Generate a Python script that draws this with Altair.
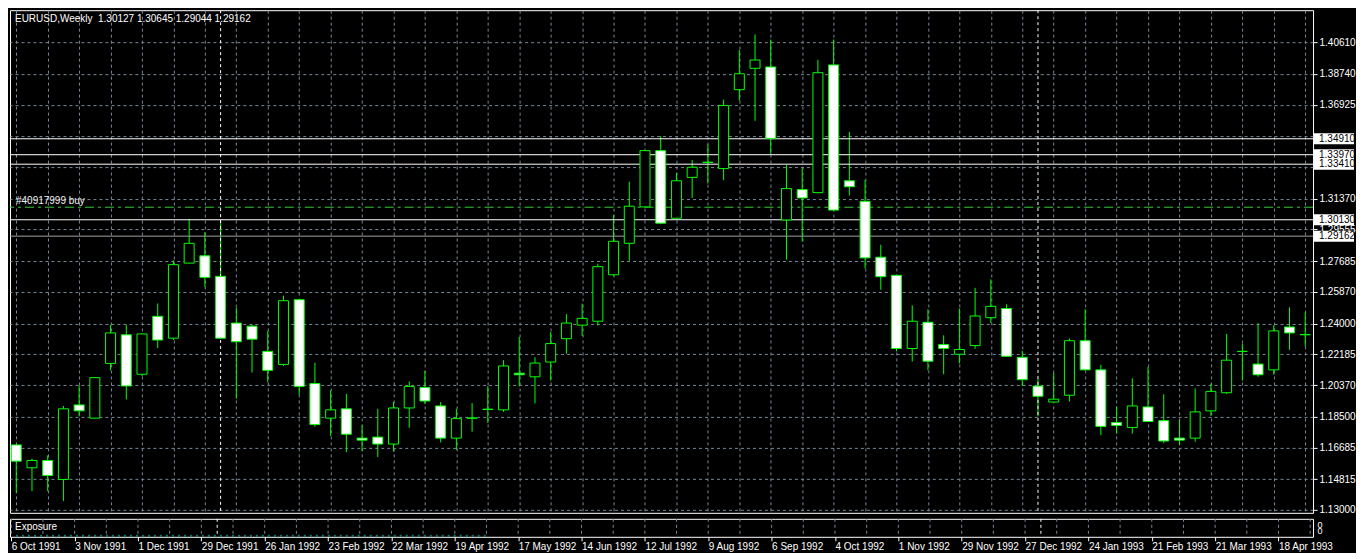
import json
import pandas as pd
import altair as alt

FONT = "Liberation Sans"
LIME = "#00ff00"
GRID = "#778899"

# ---------------- data ----------------
title_text = "EURUSD,Weekly\u00a0\u00a01.30127 1.30645 1.29044 1.29162"

week_index = list(range(83))
opens = [1.1684, 1.1549, 1.1592, 1.1480, 1.1920, 1.1842, 1.2165, 1.2334, 1.2101, 1.2443,
         1.2314, 1.2757, 1.2800, 1.2679, 1.2403, 1.2385, 1.2236, 1.2159, 1.2541, 1.2046,
         1.1842, 1.1897, 1.1724, 1.1730, 1.1689, 1.1902, 1.2023, 1.1914, 1.1724, 1.1841,
         1.1893, 1.1891, 1.2107, 1.2086, 1.2173, 1.2311, 1.2391, 1.2414, 1.2688, 1.2874,
         1.3089, 1.3421, 1.3022, 1.3263, 1.3351, 1.3315, 1.3781, 1.3907, 1.3915, 1.3012,
         1.3191, 1.3173, 1.3927, 1.3243, 1.3122, 1.2792, 1.2685, 1.2253, 1.2408, 1.2276,
         1.2219, 1.2270, 1.2435, 1.2489, 1.2201, 1.2031, 1.1937, 1.1977, 1.2299, 1.2127,
         1.1816, 1.1787, 1.1908, 1.1827, 1.1724, 1.1724, 1.1885, 1.1992, 1.2236, 1.2161,
         1.2127, 1.2380, 1.2334]
highs = [1.1691, 1.1603, 1.1622, 1.1914, 1.2035, 1.2085, 1.2393, 1.2393, 1.2342, 1.2519,
         1.2773, 1.3018, 1.2939, 1.3008, 1.2495, 1.2393, 1.2357, 1.2565, 1.2544, 1.2169,
         1.2006, 1.1985, 1.1799, 1.1897, 1.1937, 1.2059, 1.2121, 1.1937, 1.1897, 1.1931,
         1.2031, 1.2184, 1.2322, 1.2201, 1.2351, 1.2456, 1.2518, 1.2754, 1.3041, 1.3238,
         1.3424, 1.3507, 1.3290, 1.3365, 1.3457, 1.3722, 1.4015, 1.4107, 1.4077, 1.3336,
         1.3317, 1.3957, 1.4077, 1.3532, 1.3248, 1.2865, 1.2688, 1.2508, 1.2485, 1.2331,
         1.2489, 1.2611, 1.2661, 1.2514, 1.2239, 1.2075, 1.2109, 1.2312, 1.2485, 1.2157,
         1.1910, 1.2077, 1.2144, 1.1983, 1.1833, 1.2017, 1.2046, 1.2339, 1.2282, 1.2403,
         1.2391, 1.2496, 1.2466]
lows = [1.1402, 1.1411, 1.1411, 1.1353, 1.1852, 1.1838, 1.2124, 1.1952, 1.2090, 1.2255,
        1.2303, 1.2755, 1.2616, 1.2311, 1.1957, 1.2111, 1.2054, 1.2150, 1.1980, 1.1791,
        1.1737, 1.1641, 1.1647, 1.1612, 1.1645, 1.1785, 1.1925, 1.1699, 1.1655, 1.1762,
        1.1814, 1.1879, 1.2029, 1.1929, 1.2063, 1.2222, 1.2326, 1.2389, 1.2682, 1.2771,
        1.3085, 1.2987, 1.3020, 1.3142, 1.3227, 1.3246, 1.3716, 1.3597, 1.3400, 1.2778,
        1.2884, 1.3170, 1.3064, 1.3156, 1.2725, 1.2600, 1.2236, 1.2176, 1.2124, 1.2101,
        1.2165, 1.2251, 1.2404, 1.2205, 1.2031, 1.1852, 1.1935, 1.1940, 1.2125, 1.1741,
        1.1750, 1.1750, 1.1820, 1.1695, 1.1684, 1.1703, 1.1856, 1.1985, 1.2063, 1.2086,
        1.2098, 1.2245, 1.2265]
closes = [1.1588, 1.1592, 1.1503, 1.1897, 1.1885, 1.2081, 1.2345, 1.2032, 1.2339, 1.2303,
          1.2748, 1.2874, 1.2673, 1.2314, 1.2293, 1.2308, 1.2124, 1.2535, 1.2029, 1.1804,
          1.1891, 1.1747, 1.1712, 1.1689, 1.1902, 1.2029, 1.1943, 1.1724, 1.1839, 1.1843,
          1.1895, 1.2150, 1.2098, 1.2167, 1.2282, 1.2403, 1.2431, 1.2736, 1.2886, 1.3093,
          1.3421, 1.2993, 1.3243, 1.3323, 1.3353, 1.3687, 1.3875, 1.3956, 1.3492, 1.3197,
          1.3142, 1.3881, 1.3070, 1.3208, 1.2788, 1.2677, 1.2253, 1.2414, 1.2178, 1.2253,
          1.2247, 1.2445, 1.2502, 1.2207, 1.2069, 1.1971, 1.1954, 1.2299, 1.2127, 1.1793,
          1.1799, 1.1914, 1.1822, 1.1707, 1.1712, 1.1879, 1.2000, 1.2184, 1.2236, 1.2098,
          1.2357, 1.2345, 1.2336]

date_labels = ["6 Oct 1991", "3 Nov 1991", "1 Dec 1991", "29 Dec 1991", "26 Jan 1992",
               "23 Feb 1992", "22 Mar 1992", "19 Apr 1992", "17 May 1992", "14 Jun 1992",
               "12 Jul 1992", "9 Aug 1992", "6 Sep 1992", "4 Oct 1992", "1 Nov 1992",
               "29 Nov 1992", "27 Dec 1992", "24 Jan 1993", "21 Feb 1993", "21 Mar 1993",
               "18 Apr 1993"]
label_weeks = [0, 4, 8, 12, 16, 20, 24, 28, 32, 36, 40, 44, 48, 52, 56, 60, 64, 68, 72, 76, 80]
grid_weeks = [0, 2, 4, 6, 8, 10, 12, 14, 16, 18, 20, 22, 24, 26, 28, 30, 32, 34, 36, 38, 40,
              42, 44, 46, 48, 50, 52, 54, 56, 58, 60, 62, 64, 66, 68, 70, 72, 74, 76, 78, 80, 82]
year_separators = [13, 65]

price_grid = [1.13000, 1.14815, 1.16685, 1.18500, 1.20370, 1.22185, 1.24000, 1.25870,
              1.27685, 1.29555, 1.31370, 1.33240, 1.35050, 1.36925, 1.38740, 1.40610]
# grid levels whose labels sit hidden under the order-level boxes
hidden_low, hidden_high = 1.332, 1.351

white_levels = [1.34910, 1.33970, 1.33410, 1.30130]
bid_level = [1.29162]
boxed_levels = [1.34910, 1.33970, 1.33410, 1.30130, 1.29162]
order_price = [1.30870]
order_label = ["#40917999 buy"]

exposure_start = [0.3]
exposure_end = [30.0]
exposure_level = [0.06]

# ---------------- layout ----------------
W, H1, H2 = 1304, 503, 18
XDOM = [-0.08, 82.18]
YDOM = [1.1283, 1.4250]

xs = alt.Scale(domain=XDOM, nice=False, zero=False)
ys = alt.Scale(domain=YDOM, nice=False, zero=False)

candles = pd.DataFrame({"i": week_index, "o": opens, "h": highs, "l": lows, "c": closes})
grid_df = pd.DataFrame({"i": grid_weeks})
sep_df = pd.DataFrame({"i": year_separators})
white_df = pd.DataFrame({"p": white_levels})
bid_df = pd.DataFrame({"p": bid_level})
box_df = pd.DataFrame({"p": boxed_levels})
order_df = pd.DataFrame({"p": order_price, "t": order_label})
title_df = pd.DataFrame({"t": [title_text]})
expo_df = pd.DataFrame({"a": exposure_start, "b": exposure_end, "v": exposure_level})
expo_txt = pd.DataFrame({"t": ["Exposure"]})

x_grid_axis = alt.Axis(values=grid_weeks, labels=False, ticks=False, domain=False,
                       grid=True, gridColor=GRID, gridDash=[3, 3], gridWidth=1, title=None)
y_axis = alt.Axis(orient="right", values=price_grid,
                  labelExpr=(f"datum.value > {hidden_low} && datum.value < {hidden_high}"
                             " ? '' : format(datum.value, '.5f')"),
                  domain=False,
                  ticks=True, tickColor="#ffffff", tickSize=4, labelColor="#ffffff",
                  labelFont=FONT, labelFontSize=10, labelPadding=2, labelOverlap=False,
                  labelBaseline="middle", grid=True, gridColor=GRID, gridDash=[3, 3],
                  gridWidth=1, title=None)

X = lambda f: alt.X(f, scale=xs, axis=x_grid_axis, title=None)
Y = lambda f: alt.Y(f, scale=ys, axis=y_axis, title=None)

wicks = alt.Chart(candles).mark_rule(color=LIME, strokeWidth=1, clip=True).encode(
    x=X("i:Q"), y=Y("h:Q"), y2="l:Q")

bodies = alt.Chart(candles).mark_bar(size=10, stroke=LIME, strokeWidth=1, clip=True).encode(
    x=X("i:Q"), y=Y("o:Q"), y2="c:Q",
    fill=alt.condition("datum.c >= datum.o", alt.value("#000000"), alt.value("#ffffff")))

seps = alt.Chart(sep_df).mark_rule(color="#ffffff", strokeWidth=1, strokeDash=[3, 3]).encode(
    x=X("i:Q"))

white_lines = alt.Chart(white_df).mark_rule(color="#ffffff", strokeWidth=1).encode(y=Y("p:Q"))
bid_line = alt.Chart(bid_df).mark_rule(color="#a0a0a0", strokeWidth=1).encode(y=Y("p:Q"))
order_line = alt.Chart(order_df).mark_rule(color="#32cd32", strokeWidth=1,
                                           strokeDash=[9, 4, 3, 4]).encode(y=Y("p:Q"))
order_text = alt.Chart(order_df).mark_text(align="left", baseline="middle", dy=-6,
                                           font=FONT, fontSize=10, color="#f0f0f0").encode(
    x=alt.value(6), y=Y("p:Q"), text="t:N")

boxes = alt.Chart(box_df).mark_rect(fill="#ffffff", yOffset=-5.5, y2Offset=5.5).encode(
    x=alt.value(W + 1), x2=alt.value(W + 41), y=Y("p:Q"), y2="p:Q")
box_text = alt.Chart(box_df).mark_text(align="left", baseline="middle", font=FONT,
                                       fontSize=10, color="#000000").encode(
    x=alt.value(W + 6), y=Y("p:Q"), text=alt.Text("p:Q", format=".5f"))

title = alt.Chart(title_df).mark_text(align="left", baseline="middle", font=FONT,
                                      fontSize=10, color="#ffffff").encode(
    x=alt.value(5), y=alt.value(9), text="t:N")

main = alt.layer(wicks, seps, white_lines, bid_line, order_line, bodies,
                 order_text, boxes, box_text, title).properties(width=W, height=H1)

# ---------------- exposure sub-window ----------------
x_lab_axis = alt.Axis(values=label_weeks,
                      labelExpr=json.dumps(date_labels) + "[round(datum.value / 4)]",
                      labelAlign="left", labelBaseline="top", labelColor="#ffffff",
                      labelFont=FONT, labelFontSize=10, labelPadding=1, labelFlush=False,
                      labelOverlap=False, tickColor="#ffffff", tickSize=4, domain=False,
                      grid=False, title=None)
XS = lambda f: alt.X(f, scale=xs, axis=x_lab_axis, title=None)
ysub = alt.Scale(domain=[0, 1], nice=False, zero=False)
y_sub_axis = alt.Axis(orient="right", values=[0.33, 0.66], labelExpr="'0'", ticks=False,
                      domain=False, grid=False, labelColor="#ffffff", labelFont=FONT,
                      labelFontSize=9, labelPadding=4, labelOverlap=False,
                      labelBaseline="middle", title=None)

sub_grid = alt.Chart(grid_df).mark_rule(color=GRID, strokeWidth=1, strokeDash=[3, 3]).encode(
    x=XS("i:Q"))
sub_seps = alt.Chart(sep_df).mark_rule(color="#ffffff", strokeWidth=1, strokeDash=[3, 3]).encode(
    x=XS("i:Q"))
expo = alt.Chart(expo_df).mark_rule(color="#0e8f86", strokeWidth=2, strokeDash=[2, 4],
                                    opacity=0.8).encode(
    x=XS("a:Q"), x2="b:Q", y=alt.Y("v:Q", scale=ysub, axis=y_sub_axis, title=None))
expo_label = alt.Chart(expo_txt).mark_text(align="left", baseline="middle", font=FONT,
                                           fontSize=10, color="#ffffff").encode(
    x=alt.value(5), y=alt.value(8), text="t:N")

sub = alt.layer(sub_grid, sub_seps, expo, expo_label).properties(width=W, height=H2)

chart = alt.vconcat(main, sub, spacing=2).properties(
    padding={"left": 1, "top": 1, "right": 0, "bottom": 0},
    background="#000000",
).configure_view(stroke="#ffffff", strokeWidth=1)

chart.save("out.html", embed_options={"renderer": "svg", "actions": False})
